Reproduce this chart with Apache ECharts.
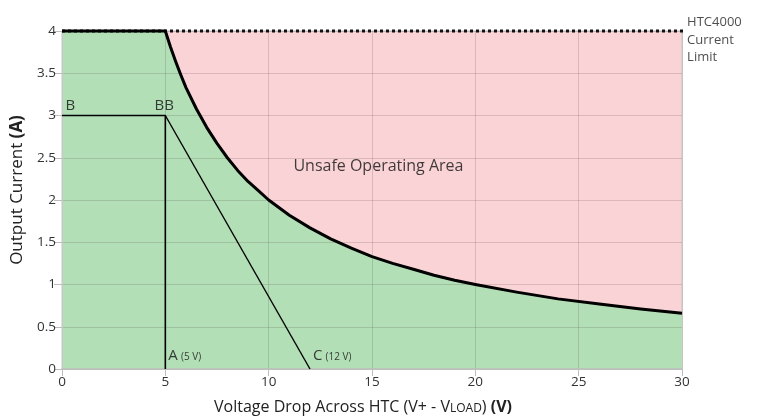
<!DOCTYPE html>
<html><head><meta charset="utf-8">
<script src="https://cdn.jsdelivr.net/npm/echarts@6/dist/echarts.min.js"></script>
<style>html,body{margin:0;padding:0;background:#fff}#c{width:757px;height:417px}</style>
</head><body><div id="c"></div>
<script>
// Power-limit curve (V, A)
const curveX = [0, 5, 5.25, 5.5, 5.75, 6, 6.5, 7, 7.5, 8, 8.5, 9, 9.5, 10, 11, 12, 13, 14, 15, 16, 17, 18, 19, 20, 22, 24, 26, 28, 30];
const curveY = [4, 4, 3.81, 3.64, 3.48, 3.33, 3.08, 2.86, 2.67, 2.5, 2.35, 2.22, 2.11, 2.0, 1.82, 1.67, 1.54, 1.43, 1.33, 1.25, 1.18, 1.11, 1.05, 1.0, 0.91, 0.83, 0.77, 0.71, 0.66];
// Current limit line
const limitX = [0, 30.3];
const limitY = [4, 4];
// Load line B - BB - A / C
const loadX = [0, 5, 5];
const loadY = [3, 3, 0];
const diagX = [5, 12];
const diagY = [3, 0];
// Axis ticks
const xTicks = [0, 5, 10, 15, 20, 25, 30];
const yTicks = [0, 0.5, 1, 1.5, 2, 2.5, 3, 3.5, 4];
// Annotations
const notes = [
  {x: 0.4, y: 3, text: '{t|B}', pos: 'top', off: [0, 0]},
  {x: 4.95, y: 3, text: '{t|BB}', pos: 'top', off: [0, 0]},
  {x: 5.05, y: 0, text: '{t|A} {s|(5 V)}', pos: 'right', off: [0, -13]},
  {x: 12.05, y: 0, text: '{t|C} {s|(12 V)}', pos: 'right', off: [0, -13]},
  {x: 11.1, y: 2.4, text: '{u|Unsafe Operating Area}', pos: 'right', off: [0, 0]},
  {x: 30.15, y: 4, text: '{h|HTC4000}\n{h|Current}\n{h|Limit}', pos: 'right', off: [0, 9]}
];

const zip = (a, b) => a.map((v, i) => [v, b[i]]);
const FONT = '"Open Sans", "Noto Sans", sans-serif';

const chart = echarts.init(document.getElementById('c'), null, {renderer: 'canvas'});
chart.setOption({
  animation: false,
  textStyle: {fontFamily: FONT},
  grid: {left: 62, right: 75, top: 31, bottom: 48, containLabel: false, outerBoundsMode: 'none',
         show: true, backgroundColor: '#f9d3d5', borderColor: '#c4c4c4', borderWidth: 1},
  xAxis: {
    type: 'value', min: 0, max: 30, interval: 5, z: 3,
    name: '{n|Voltage Drop Across HTC (V+ - V}{sm|LOAD}{n|) }{b|(V)}',
    nameLocation: 'middle', nameGap: 30,
    nameTextStyle: {padding: [0, 18, 0, 0], rich: {
      n: {fontSize: 16, color: '#222', fontFamily: FONT},
      sm: {fontSize: 12, color: '#222', fontFamily: FONT, padding: [3, 0, 0, 0]},
      b: {fontSize: 16, color: '#222', fontWeight: 'bold', fontFamily: FONT}
    }},
    axisLine: {show: true, lineStyle: {color: '#bdbdbd', width: 1.5}},
    axisTick: {show: true, length: 7, lineStyle: {color: '#bdbdbd'}},
    axisLabel: {fontSize: 13.5, color: '#333', margin: 6, fontFamily: FONT},
    splitLine: {show: true, lineStyle: {color: 'rgba(60,40,40,0.16)', width: 1}}
  },
  yAxis: {
    type: 'value', min: 0, max: 4, interval: 0.5, z: 3,
    name: '{n|Output Current }{b|(A)}',
    nameLocation: 'middle', nameGap: 36, nameRotate: 90,
    nameTextStyle: {padding: [0, 0, 0, 20], rich: {
      n: {fontSize: 17, color: '#222', fontFamily: FONT},
      b: {fontSize: 17, color: '#222', fontWeight: 'bold', fontFamily: FONT}
    }},
    axisLine: {show: true, lineStyle: {color: '#c8c8c8', width: 1}},
    axisTick: {show: true, length: 8, lineStyle: {color: '#bdbdbd'}},
    axisLabel: {fontSize: 13.5, color: '#333', margin: 6, fontFamily: FONT},
    splitLine: {show: true, lineStyle: {color: 'rgba(60,40,40,0.16)', width: 1}}
  },
  series: [
    {
      type: 'line', data: zip(curveX, curveY), z: 2,
      symbol: 'none', lineStyle: {width: 0}, areaStyle: {color: '#b3dfb7', opacity: 1}
    },
    {
      type: 'line', data: zip(limitX, limitY), z: 5, clip: false,
      symbol: 'none', lineStyle: {color: '#111', width: 3, type: [3, 3]}
    },
    {
      type: 'line', data: zip(curveX, curveY), z: 6, clip: false,
      symbol: 'none', lineStyle: {color: '#000', width: 3, join: 'round'}
    },
    {
      type: 'line', data: zip(loadX, loadY), z: 6,
      symbol: 'none', lineStyle: {color: '#000', width: 1.6}
    },
    {
      type: 'line', data: zip(diagX, diagY), z: 6,
      symbol: 'none', lineStyle: {color: '#000', width: 1.4}
    },
    {
      type: 'scatter', z: 7, symbolSize: 0, clip: false,
      data: notes.map(n => ({value: [n.x, n.y], label: {show: true, position: n.pos, offset: n.off, formatter: n.text}})),
      label: {
        show: true, distance: 2,
        rich: {
          t: {fontSize: 15, color: '#111', fontFamily: FONT},
          s: {fontSize: 10, color: '#111', fontFamily: FONT, padding: [3, 0, 0, 0]},
          u: {fontSize: 16, color: '#111', fontFamily: FONT},
          h: {fontSize: 13, color: '#222', fontFamily: FONT, lineHeight: 17.5}
        }
      }
    }
  ]
});
</script>
</body></html>
